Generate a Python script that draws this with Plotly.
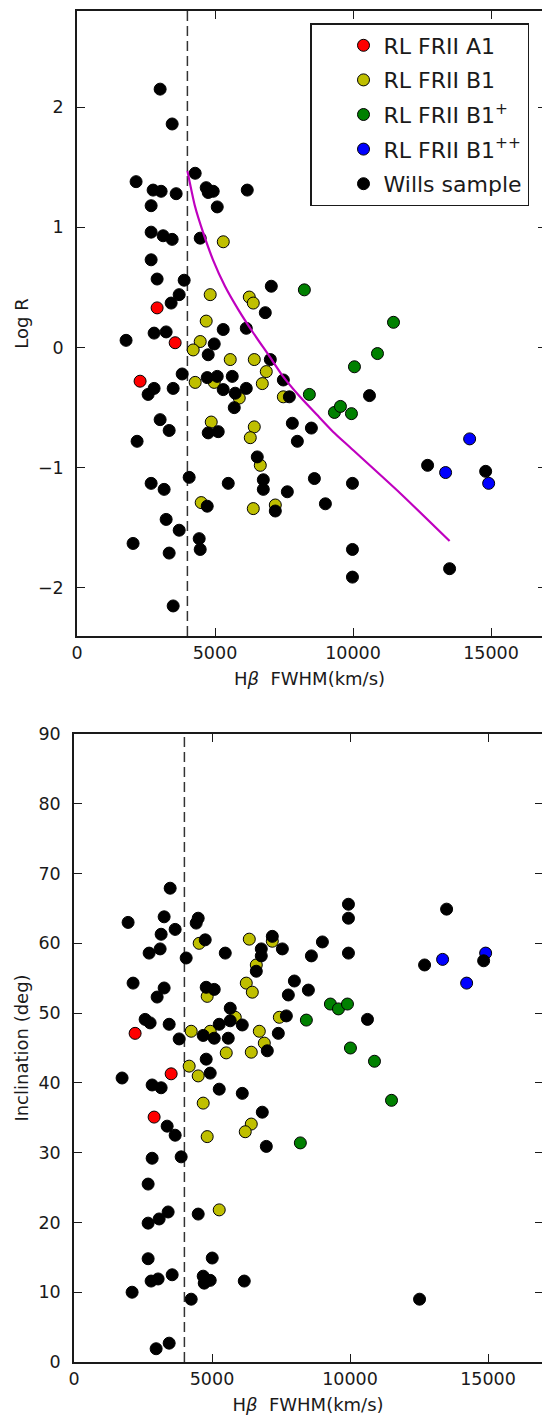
import plotly.graph_objects as go

W, H = 542, 1416

# ---------------- upper panel: log R against H-beta FWHM ----------------
A1_FWHM_R = [2903, 3557, 2286]
A1_LOGR = [0.33, 0.04, -0.28]

B1_FWHM_R = [5300, 4826, 6242, 6387, 4681, 4464, 4210, 5552, 6423, 6858, 6714,
             4282, 4972, 5879, 7476, 4863, 6423, 6278, 6641, 4500, 6387, 7185]
B1_LOGR = [0.88, 0.44, 0.42, 0.37, 0.22, 0.05, -0.02, -0.10, -0.10, -0.20, -0.30,
           -0.29, -0.29, -0.42, -0.41, -0.62, -0.66, -0.75, -0.98, -1.29, -1.34, -1.31]

B1P_FWHM_R = [8238, 11467, 10887, 10052, 8419, 9327, 9545, 9944]
B1P_LOGR = [0.48, 0.21, -0.05, -0.16, -0.39, -0.54, -0.49, -0.55]

B1PP_FWHM_R = [14226, 13355, 14915]
B1PP_LOGR = [-0.76, -1.04, -1.13]

WILLS_FWHM_R = [3012, 3448, 2141, 4282, 2758, 3048, 3593, 4681, 4754, 4935,
                6169, 2686, 5081, 2686, 3121, 3448, 4464, 2686, 2903, 3883,
                3702, 3411, 7040, 6822, 5298, 6133, 4972, 4754, 7004, 1778,
                2794, 3230, 3810, 2794, 2577, 3484, 4718, 5081, 5625, 5298,
                5734, 6133, 5698, 7476, 7694, 3012, 3339, 2177, 4754, 5117,
                6532, 4064, 2686, 3157, 5480, 6750, 6750, 4718, 7185, 3230,
                3702, 2032, 4427, 4464, 3339, 3484, 7802, 8492, 7984, 7621,
                8601, 9000, 10597, 12702, 14806, 9980, 9980, 9980, 13500]
WILLS_LOGR = [2.15, 1.86, 1.38, 1.45, 1.31, 1.30, 1.28, 1.33, 1.29, 1.30,
              1.31, 1.18, 1.17, 0.96, 0.93, 0.90, 0.91, 0.73, 0.57, 0.56,
              0.44, 0.37, 0.51, 0.29, 0.15, 0.16, 0.03, -0.06, -0.10, 0.06,
              0.12, 0.13, -0.22, -0.34, -0.39, -0.34, -0.25, -0.24, -0.24, -0.35,
              -0.38, -0.34, -0.50, -0.27, -0.41, -0.60, -0.69, -0.78, -0.71, -0.70,
              -0.91, -1.08, -1.13, -1.18, -1.13, -1.10, -1.18, -1.32, -1.36, -1.43,
              -1.52, -1.63, -1.59, -1.68, -1.71, -2.15, -0.63, -0.67, -0.78, -1.20,
              -1.09, -1.30, -0.40, -0.98, -1.03, -1.13, -1.68, -1.91, -1.84]

# model track drawn across the upper panel
MODEL_FWHM = [4000, 4275, 4565, 4927, 5362, 5833, 6377, 6993, 7464, 8080,
              8695, 9275, 9891, 11700, 13500]
MODEL_LOGR = [1.47, 1.175, 0.96, 0.73, 0.51, 0.32, 0.125, -0.08, -0.24, -0.41,
              -0.56, -0.70, -0.83, -1.21, -1.61]

# ---------------- lower panel: inclination against H-beta FWHM ----------------
A1_FWHM_I = [2214, 3520, 2903]
A1_INC = [47.1, 41.3, 35.1]

B1_FWHM_I = [4536, 6351, 7185, 6605, 4826, 6242, 6460, 5843, 4246, 4935, 6714,
             6895, 7440, 5516, 6423, 4173, 4500, 4681, 4826, 6423, 6205, 5262]
B1_INC = [60.0, 60.6, 60.3, 56.9, 52.4, 54.3, 53.0, 49.4, 47.4, 47.4, 47.4,
          45.7, 49.4, 44.3, 44.4, 42.4, 41.0, 37.1, 32.3, 34.1, 33.0, 21.8]

B1P_FWHM_I = [9290, 9581, 9908, 8419, 10016, 10887, 11504, 8201]
B1P_INC = [51.3, 50.6, 51.3, 49.0, 45.0, 43.1, 37.5, 31.4]

B1PP_FWHM_I = [14915, 13355, 14226]
B1PP_INC = [58.6, 57.7, 54.3]

WILLS_FWHM_I = [1960, 3484, 3266, 3157, 3665, 4500, 4427, 2722, 3121, 4754,
                4064, 5480, 7185, 6786, 6786, 6605, 2141, 3266, 3012, 4790,
                5081, 5661, 2577, 2758, 3448, 5262, 5661, 6097, 3810, 4681,
                5081, 5589, 7004, 7403, 7549, 8601, 9000, 9944, 9944, 9944,
                7984, 7766, 8492, 7694, 4790, 4935, 13500, 14842, 12702, 10633,
                6822, 6968, 12520, 1742, 2831, 3157, 5262, 6097, 3375, 3665,
                2831, 3883, 2686, 3411, 3085, 2686, 4500, 2686, 5008, 2794,
                3048, 3557, 4681, 4718, 4935, 6169, 2105, 4246, 2976, 3448]
WILLS_INC = [63.0, 67.9, 63.8, 61.3, 62.0, 63.6, 62.9, 58.6, 59.2, 60.5,
             57.9, 58.6, 61.0, 59.2, 58.2, 56.0, 54.3, 53.6, 52.3, 53.7,
             53.4, 50.7, 49.1, 48.6, 48.4, 48.4, 48.9, 48.3, 46.3, 46.8,
             46.4, 46.4, 44.6, 47.1, 59.2, 58.2, 60.2, 65.6, 63.6, 58.6,
             54.6, 52.6, 53.3, 49.6, 43.4, 41.4, 64.9, 57.5, 56.9, 49.1,
             35.8, 30.9, 9.0, 40.7, 39.7, 39.3, 39.1, 38.5, 33.8, 32.5,
             29.2, 29.4, 25.5, 21.5, 20.5, 19.9, 21.2, 14.8, 14.9, 11.6,
             11.9, 12.5, 12.3, 11.3, 11.7, 11.6, 10.0, 9.0, 1.9, 2.7]

FWHM_CUT = 4000

X_TICKS = [0, 5000, 10000, 15000]
LOGR_TICKS = [-2, -1, 0, 1, 2]
INC_TICKS = [0, 10, 20, 30, 40, 50, 60, 70, 80, 90]

X_TITLE = "H<i>β</i>  FWHM(km/s)"
LOGR_TITLE = "Log R"
INC_TITLE = "Inclination (deg)"

SERIES = [
    ("RL FRII A1", "#ff0000", A1_FWHM_R, A1_LOGR, A1_FWHM_I, A1_INC),
    ("RL FRII B1", "#bfbf00", B1_FWHM_R, B1_LOGR, B1_FWHM_I, B1_INC),
    ("RL FRII B1<sup>+</sup>", "#008000", B1P_FWHM_R, B1P_LOGR, B1P_FWHM_I, B1P_INC),
    ("RL FRII B1<sup>++</sup>", "#0000ff", B1PP_FWHM_R, B1PP_LOGR, B1PP_FWHM_I, B1PP_INC),
    ("Wills sample", "#000000", WILLS_FWHM_R, WILLS_LOGR, WILLS_FWHM_I, WILLS_INC),
]

FONT = "DejaVu Sans"
INK = "#1a1a1a"

fig = go.Figure()

for name, color, fx, fy, gx, gy in SERIES:
    marker = dict(size=12, color=color, line=dict(color="#000000", width=1))
    fig.add_trace(go.Scatter(x=fx, y=fy, mode="markers", name=name, marker=marker,
                             xaxis="x", yaxis="y", legendgroup=name))
    fig.add_trace(go.Scatter(x=gx, y=gy, mode="markers", name=name, marker=marker,
                             xaxis="x2", yaxis="y2", showlegend=False, legendgroup=name))

fig.add_trace(go.Scatter(x=MODEL_FWHM, y=MODEL_LOGR, mode="lines",
                         line=dict(color="#bf00bf", width=2.2, shape="spline", smoothing=0.6),
                         xaxis="x", yaxis="y", showlegend=False, hoverinfo="skip"))

# empty traces to carry the right-hand tick axes
fig.add_trace(go.Scatter(x=[], y=[], xaxis="x", yaxis="y3", showlegend=False))
fig.add_trace(go.Scatter(x=[], y=[], xaxis="x2", yaxis="y4", showlegend=False))

for xr, yr in (("x", "y"), ("x2", "y2")):
    fig.add_shape(type="line", xref=xr, yref=f"{yr} domain", x0=FWHM_CUT, x1=FWHM_CUT,
                  y0=0, y1=1, line=dict(color="#333333", width=1.5, dash="10px,5px"),
                  layer="below")

# panel geometry in pixels
TOP_L, TOP_T, TOP_B = 77, 11, 636
BOT_L, BOT_T, BOT_B = 74, 734, 1362
PX_PER_KMS = 27.6 / 1000.0

tickfont = dict(family=FONT, size=17.5, color=INK)
title_font = dict(family=FONT, size=18, color=INK)


def xaxis_cfg(left, anchor):
    return dict(domain=[left / W, 1], range=[0, (W - left) / PX_PER_KMS],
                tickvals=X_TICKS, ticktext=[str(v) for v in X_TICKS],
                ticks="inside", ticklen=8, tickwidth=1.2, tickcolor=INK,
                showline=True, linecolor=INK, linewidth=1.6, mirror="ticks",
                showgrid=False, zeroline=False, tickfont=tickfont,
                ticklabelstandoff=0, anchor=anchor, automargin=False,
                title=dict(text=X_TITLE, font=title_font, standoff=11))


def yaxis_cfg(top, bottom, rng, ticks, anchor, title):
    return dict(domain=[1 - bottom / H, 1 - top / H], range=rng, tickvals=ticks,
                ticks="inside", ticklen=8, tickwidth=1.2, tickcolor=INK,
                showline=True, linecolor=INK, linewidth=1.6, mirror=False,
                showgrid=False, zeroline=False, tickfont=tickfont,
                ticklabelstandoff=8, anchor=anchor, automargin=False,
                title=dict(text=title, font=title_font, standoff=5))


def right_ticks(base, rng, ticks, length, anchor):
    return dict(overlaying=base, side="right", anchor=anchor, range=rng, tickvals=ticks,
                ticks="inside", ticklen=length, tickwidth=1.2, tickcolor=INK,
                showticklabels=False, showline=False, showgrid=False, zeroline=False)


LOGR_RANGE = [-2.4, 2.8]
INC_RANGE = [0, 90]

fig.update_layout(
    width=W, height=H,
    margin=dict(l=0, r=0, t=0, b=0, autoexpand=False),
    paper_bgcolor="white", plot_bgcolor="white",
    font=dict(family=FONT, color=INK),
    xaxis=xaxis_cfg(TOP_L, "y"),
    yaxis=yaxis_cfg(TOP_T, TOP_B, LOGR_RANGE, LOGR_TICKS, "x", LOGR_TITLE),
    xaxis2=xaxis_cfg(BOT_L, "y2"),
    yaxis2=yaxis_cfg(BOT_T, BOT_B, INC_RANGE, INC_TICKS, "x2", INC_TITLE),
    yaxis3=right_ticks("y", LOGR_RANGE, LOGR_TICKS, 4, "x"),
    yaxis4=right_ticks("y2", INC_RANGE, INC_TICKS, 7, "x2"),
    legend=dict(x=310 / W, y=1 - 23 / H, xanchor="left", yanchor="top",
                bgcolor="white", bordercolor=INK, borderwidth=1.5,
                font=dict(family=FONT, size=22, color=INK),
                indentation=32, tracegroupgap=3, itemsizing="trace",
                traceorder="grouped", entrywidth=150),
    showlegend=True,
)

fig.write_html("out.html")
